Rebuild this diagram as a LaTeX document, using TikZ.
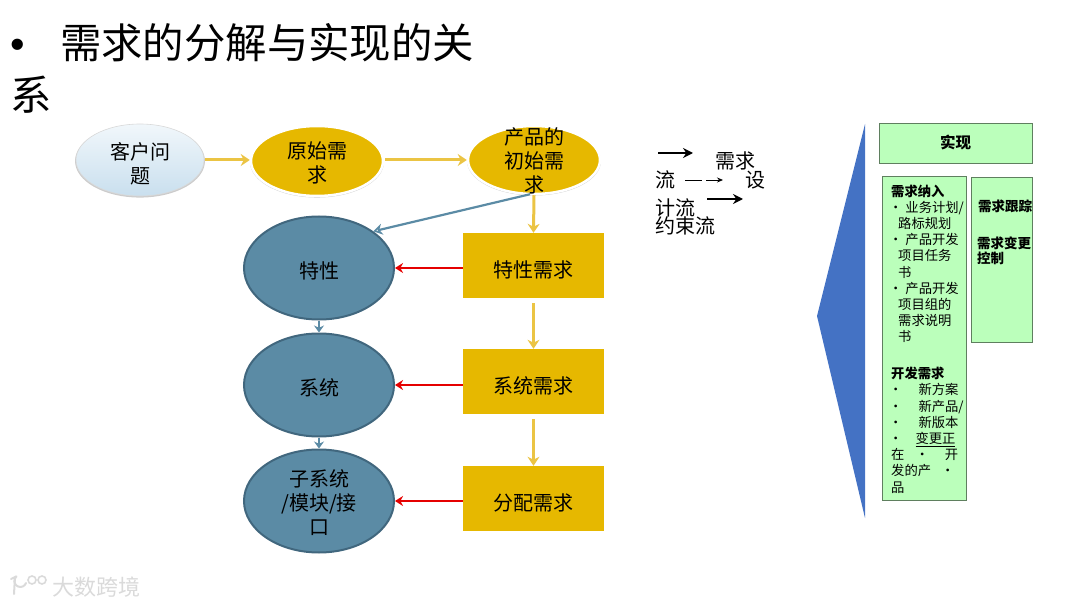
\documentclass[tikz,border=0pt]{standalone}
\usepackage{fontspec}
\setmainfont{Noto Sans CJK SC}
\newfontfamily\latinbullet{Liberation Sans}
\usetikzlibrary{arrows.meta,shapes.geometric,shadows,calc}
\definecolor{gold}{HTML}{E6B800}
\definecolor{goldline}{HTML}{EBC444}
\definecolor{teal}{HTML}{5B8BA5}
\definecolor{tealdark}{HTML}{41677E}
\definecolor{mint}{HTML}{BBFFBB}
\definecolor{edgegrey}{HTML}{5F7F5F}
\definecolor{royal}{HTML}{4472C4}
\definecolor{wm}{HTML}{DADADA}
\definecolor{skytop}{HTML}{F1F7FB}
\definecolor{skybot}{HTML}{C9DFEE}
\newcommand{\dn}[1]{\rule{0pt}{\dimexpr17.6pt+#1pt+#1pt\relax}}
\tikzset{
  body/.style={font=\fontsize{20}{24}\selectfont,align=center,text=black},
  softshadow/.style={drop shadow={opacity=0.4,shadow xshift=0pt,shadow yshift=-1pt,shadow scale=1.015}},
  sky/.style={ellipse,body,inner sep=-15pt,minimum width=128pt,minimum height=72pt,top color=skytop,bottom color=skybot,draw=gray!30,line width=0.6pt,softshadow},
  goldoval/.style={ellipse,body,inner sep=-15pt,minimum width=132pt,minimum height=70pt,fill=gold,draw=white,line width=2.5pt,softshadow},
  tealoval/.style={ellipse,body,inner sep=-15pt,minimum width=150pt,minimum height=103pt,fill=teal,draw=tealdark,line width=2pt},
  goldbox/.style={rectangle,body,inner sep=0pt,minimum width=141pt,minimum height=65pt,fill=gold},
  minty/.style={rectangle,fill=mint,draw=edgegrey,line width=0.9pt,inner sep=0pt},
  small/.style={font=\fontsize{13.3}{16.2}\selectfont,align=left,inner sep=0pt,anchor=north west,text=black},
  flow/.style={font=\fontsize{20}{24}\selectfont,inner sep=0pt,text=black},
  goldarrow/.style={draw=goldline,line width=3pt,-{Stealth[length=9pt,width=12pt]}},
  bluearrow/.style={draw=teal,line width=2.2pt,-{Stealth[length=9pt,width=11pt,open,fill=white]}},
  redarrow/.style={draw=red!90!black,line width=2.6pt,-{Stealth[length=8pt,width=10pt]}},
  blackarrow/.style={draw=black,line width=1.8pt,-{Stealth[length=10pt,width=10pt]}},
}
\begin{document}
\begin{tikzpicture}[x=1pt,y=-1pt]
\useasboundingbox (0,0) rectangle (1080,607);
% title
\node[anchor=north west,inner sep=0pt,align=left,font=\fontsize{41.4}{52}\selectfont] (title) at (10,23) {{\latinbullet •}\hspace{35.5pt}需求的分解与实现的关\\系};
% top row
\node[sky] (cust) at (140,160) {\dn{3}客户问\\题};
\node[goldoval] (raw) at (317,161) {\dn{2}原始需\\求};
\node[goldoval,minimum width=132pt,minimum height=68pt] (init) at (534,160) {\dn{1}产品的\\初始需\\求};
% left column
\node[tealoval] (feat) at (319,268) {\dn{2}特性};
\node[tealoval] (sys) at (319,385) {\dn{2.5}系统};
\node[tealoval] (sub) at (319,501) {\dn{1}子系统\\/模块/接\\口};
% right column
\node[goldbox] (rfeat) at (533.5,265.5) {\dn{4}特性需求};
\node[goldbox] (rsys) at (533.5,381.5) {\dn{4}系统需求};
\node[goldbox] (ralloc) at (533.5,498.5) {\dn{4}分配需求};
% connectors
\draw[goldarrow,shorten <=1pt] (cust.east) -- (cust.east -| raw.west);
\draw[goldarrow,shorten <=1pt] (raw.east |- init.west) -- (init.west);
\draw[goldarrow] (init.south) -- (rfeat.north);
\draw[bluearrow] ($(init.south)+(-4,-1)$) -- (feat.34);
\draw[redarrow] (feat.east -| rfeat.west) -- (feat.east);
\draw[redarrow] (sys.east -| rsys.west) -- (sys.east);
\draw[redarrow] (sub.east -| ralloc.west) -- (sub.east);
\draw[goldarrow,shorten <=5pt] (rfeat.south) -- (rsys.north);
\draw[goldarrow,shorten <=5pt] (rsys.south) -- (ralloc.north);
\draw[bluearrow,-{Stealth[length=7pt,width=10pt]}] (feat.south) -- (sys.north);
\draw[bluearrow,-{Stealth[length=7pt,width=10pt]}] (sys.south) -- (sub.north);
% flow legend
\coordinate (a1s) at (658,153); \coordinate (a1e) at (693,153);
\coordinate (a2s) at (685,180); \coordinate (a2e) at (723,180);
\coordinate (a3s) at (707,199); \coordinate (a3e) at (743,199);
\draw[blackarrow] (a1s) -- (a1e);
\draw[black,line width=0.8pt,dash pattern=on 17pt off 4pt,-{Stealth[length=6pt,width=5pt]}] (a2s) -- (a2e);
\draw[blackarrow] (a3s) -- (a3e);
\node[flow] (f1) at (735,161) {需求};
\node[flow] (f2) at (755,180) {设};
\node[flow] (f3) at (665,180) {流};
\node[flow] (f4) at (675,208) {计流};
\node[flow] (f5) at (685,226) {约束流};
% right panel
\path[fill=royal] (865,124) -- (817,316) -- (865,518) -- cycle;
\node[minty,minimum width=153pt,minimum height=40pt,font=\bfseries\fontsize{15.5}{18}\selectfont] (impl) at (955.5,143) {实现\hspace{9pt}};
\node[minty,minimum width=84pt,minimum height=324pt] (lbox) at (924,338) {};
\node[minty,minimum width=61pt,minimum height=165pt] (rbox) at (1001.5,259.5) {};
\node[small] (l1) at (891,184.5) {\textbf{需求纳入}\\
\hspace{-2pt}•\hspace{3pt}业务计划/\\
\hspace{7pt}路标规划\\
\hspace{-2pt}•\hspace{3pt}产品开发\\
\hspace{7pt}项目任务\\
\hspace{7pt}书\\
\hspace{-2pt}•\hspace{3pt}产品开发\\
\hspace{7pt}项目组的\\
\hspace{7pt}需求说明\\
\hspace{7pt}书};
\node[small] (l2) at (891,367) {\textbf{开发需求}\\
\hspace{-2pt}•\hspace{16pt}新方案\\
\hspace{-2pt}•\hspace{16pt}新产品/\\
\hspace{-2pt}•\hspace{16pt}新版本\\
\hspace{-2pt}•\hspace{13pt}\underline{变更正}\\
在\hspace{11pt}•\hspace{16pt}开\\
发的产\hspace{10pt}•\\
品};
\node[small,font=\bfseries\fontsize{13.5}{15}\selectfont] (r1) at (978,200) {需求跟踪};
\node[small,font=\bfseries\fontsize{13.5}{15}\selectfont] (r2) at (977,237) {需求变更\\控制};
% watermark
\node[anchor=west,inner sep=0pt,text=wm,font=\fontsize{22}{24}\selectfont] (mark) at (52,587) {大数跨境};
\draw[wm,line width=2pt,line cap=round] (11,579) -- (15,577) -- (14,594);
\draw[wm,line width=2pt,line cap=round] (26,583) arc[start angle=-20,end angle=-230,radius=6pt];
\draw[wm,line width=1.6pt] (32,580) circle[radius=4pt] (42,580) circle[radius=4pt];
\end{tikzpicture}
\end{document}
